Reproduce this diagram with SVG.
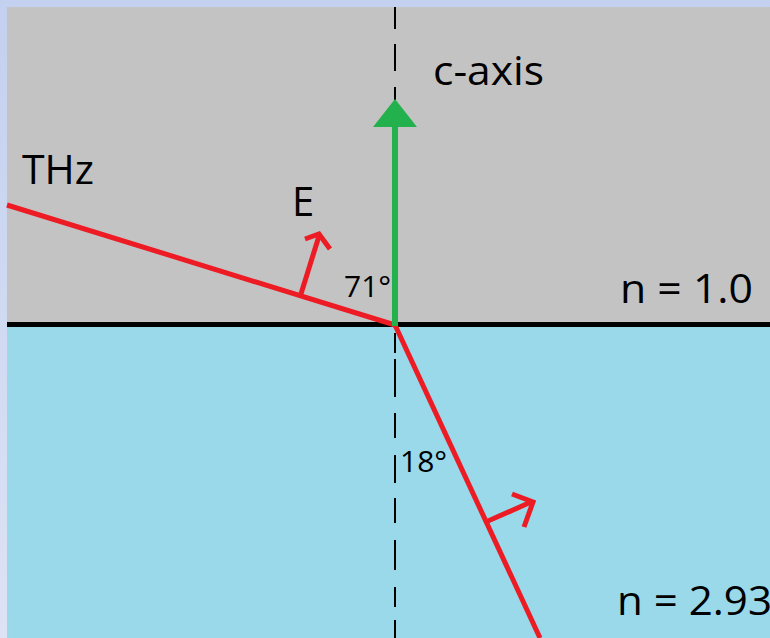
<svg xmlns="http://www.w3.org/2000/svg" width="770" height="638" viewBox="0 0 770 638">
  <defs>
    <linearGradient id="frame" x1="0" y1="0" x2="0" y2="1">
      <stop offset="0" stop-color="#c3d0ef"/>
      <stop offset="1" stop-color="#dde3f5"/>
    </linearGradient>
    <style>
      .lbl { font-family: "Open Sans", "DejaVu Sans", sans-serif; fill: #000; }
      .big { font-size: 40px; }
      .ang { font-size: 30px; }
      .ray { stroke: #ed1c24; stroke-width: 5; fill: none; stroke-linejoin: miter; }
      .dash { stroke: #000; stroke-width: 2; fill: none; }
    </style>
  </defs>

  <g id="background">
    <rect x="0" y="0" width="770" height="638" fill="url(#frame)"/>
    <rect x="7" y="7" width="763" height="317" fill="#c3c3c3"/>
    <rect x="7" y="324" width="763" height="314" fill="#99d9ea"/>
    <rect x="7" y="322" width="763" height="5" fill="#000"/>
  </g>

  <g id="connectors">
    <path id="normal" class="dash" d="M395 7V29M395 44V71M395 87V100M395 333V353M395 359V397M395 413V438M395 455V483M395 498V523M395 540V570M395 587V607M395 620V638"/>
    <line id="incident-ray" class="ray" x1="7" y1="205" x2="395" y2="325"/>
    <line id="refracted-ray" class="ray" x1="395" y1="325" x2="540" y2="638"/>
    <g id="e-incident">
      <line class="ray" x1="300" y1="297" x2="319" y2="236"/>
      <polyline class="ray" points="305,239 319,234 330,249"/>
    </g>
    <g id="e-refracted">
      <line class="ray" x1="488" y1="521" x2="531" y2="502"/>
      <polyline class="ray" points="512,494 533,502 524,527"/>
    </g>
    <g id="c-axis-arrow">
      <rect x="392" y="120" width="6" height="206" fill="#22b14c"/>
      <polygon points="395,99 373,127 417,127" fill="#22b14c"/>
    </g>
  </g>

  <g id="label-c-axis"><text class="lbl big" x="433" y="85" textLength="111" lengthAdjust="spacingAndGlyphs">c-axis</text></g>
  <g id="label-thz"><text class="lbl big" x="22" y="184" textLength="72" lengthAdjust="spacingAndGlyphs">THz</text></g>
  <g id="label-e"><text class="lbl big" x="292" y="216">E</text></g>
  <g id="label-71"><text class="lbl ang" x="344" y="297">71°</text></g>
  <g id="label-18"><text class="lbl ang" x="400" y="472">18°</text></g>
  <g id="label-n1"><text class="lbl big" x="620" y="303" textLength="133" lengthAdjust="spacingAndGlyphs">n = 1.0</text></g>
  <g id="label-n2"><text class="lbl big" x="617" y="615" textLength="155" lengthAdjust="spacingAndGlyphs">n = 2.93</text></g>
</svg>
